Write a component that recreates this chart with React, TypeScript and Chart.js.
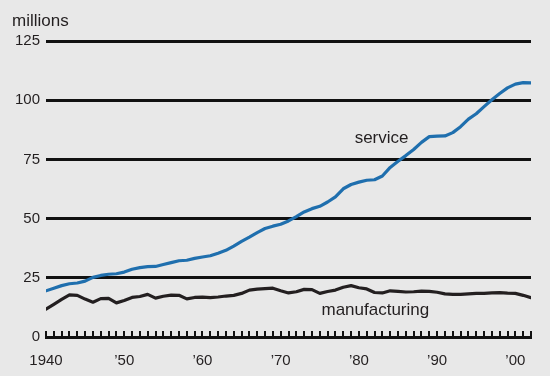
import React, { useEffect, useRef } from "react";
import { Chart, registerables } from "chart.js";

Chart.register(...registerables);

const YEARS: number[] = Array.from({ length: 63 }, (_, i) => 1940 + i);

const SERVICE: number[] = [
  19.5, 20.6, 21.7, 22.5, 22.8, 23.6, 25.2, 26.0, 26.5, 26.7,
  27.4, 28.6, 29.3, 29.7, 29.8, 30.6, 31.4, 32.2, 32.4, 33.2,
  33.8, 34.3, 35.4, 36.6, 38.4, 40.4, 42.2, 44.1, 45.8, 46.8,
  47.6, 49.0, 50.8, 52.8, 54.2, 55.2, 57.0, 59.2, 62.6, 64.4,
  65.4, 66.2, 66.4, 68.0, 71.6, 74.2, 76.6, 79.2, 82.2, 84.6,
  84.8, 84.9, 86.3, 88.8, 92.0, 94.3, 97.3, 100.2, 102.8, 105.2,
  106.8, 107.4, 107.3,
];

const MANUFACTURING: number[] = [
  11.8, 13.8, 15.9, 17.8, 17.6, 16.0, 14.7, 16.2, 16.3, 14.4,
  15.4, 16.7, 17.1, 18.0, 16.4, 17.2, 17.7, 17.6, 16.1, 16.7,
  16.8, 16.6, 16.9, 17.3, 17.6, 18.4, 19.8, 20.2, 20.4, 20.6,
  19.5, 18.6, 19.1, 20.1, 20.0, 18.4, 19.2, 19.8, 21.0, 21.7,
  20.8, 20.3, 18.8, 18.6, 19.5, 19.3, 19.0, 19.1, 19.4, 19.3,
  18.9, 18.2, 18.0, 18.0, 18.2, 18.4, 18.4, 18.6, 18.7, 18.5,
  18.4, 17.6, 16.6,
];

const X_TICK_YEARS: number[] = [1940, 1950, 1960, 1970, 1980, 1990, 2000];
const X_TICK_LABELS: string[] = ["1940", "\u201950", "\u201960", "\u201970", "\u201980", "\u201990", "\u201900"];
const Y_UNIT = "millions";
const SERIES_NAMES: string[] = ["service", "manufacturing"];
const SERIES_LABEL_POS: { x: number; y: number }[] = [
  { x: 1982.9, y: 84 },
  { x: 1982.1, y: 11.2 },
];

const FONT = '"Liberation Sans", Arial, Helvetica, sans-serif';
const BG = "#e8e8e8";
const TEXT = "#231f20";

export default function App() {
  const ref = useRef<HTMLCanvasElement | null>(null);

  useEffect(() => {
    document.body.style.margin = "0";
    const canvas = ref.current;
    if (!canvas) return;

    const decor = {
      id: "decor",
      beforeDraw(chart: any) {
        const ctx = chart.ctx;
        ctx.save();
        ctx.fillStyle = BG;
        ctx.fillRect(0, 0, chart.width, chart.height);
        ctx.restore();
      },
      afterDatasetsDraw(chart: any) {
        const ctx = chart.ctx;
        const xs = chart.scales.x;
        const ys = chart.scales.y;
        const bottom = ys.getPixelForValue(0);
        ctx.save();
        // yearly tick marks pointing up from the axis
        ctx.strokeStyle = "#111";
        ctx.lineWidth = 2;
        for (const yr of YEARS) {
          const px = Math.round(xs.getPixelForValue(yr));
          ctx.beginPath();
          ctx.moveTo(px, bottom);
          ctx.lineTo(px, bottom - 6);
          ctx.stroke();
        }
        // unit label
        ctx.fillStyle = TEXT;
        ctx.font = `17px ${FONT}`;
        ctx.textAlign = "left";
        ctx.textBaseline = "alphabetic";
        ctx.fillText(Y_UNIT, 12, 26);
        // series labels
        ctx.textAlign = "center";
        ctx.textBaseline = "middle";
        SERIES_NAMES.forEach((name, i) => {
          const p = SERIES_LABEL_POS[i];
          ctx.fillText(name, xs.getPixelForValue(p.x), ys.getPixelForValue(p.y));
        });
        ctx.restore();
      },
    };

    const chart = new Chart(canvas, {
      type: "line",
      data: {
        datasets: [
          {
            label: SERIES_NAMES[0],
            data: YEARS.map((y, i) => ({ x: y, y: SERVICE[i] })),
            borderColor: "#1f6fae",
            borderWidth: 3.2,
            pointRadius: 0,
            tension: 0,
            borderJoinStyle: "round",
            borderCapStyle: "round",
          },
          {
            label: SERIES_NAMES[1],
            data: YEARS.map((y, i) => ({ x: y, y: MANUFACTURING[i] })),
            borderColor: "#231f20",
            borderWidth: 3.2,
            pointRadius: 0,
            tension: 0,
            borderJoinStyle: "round",
            borderCapStyle: "round",
          },
        ],
      },
      options: {
        animation: false,
        responsive: false,
        devicePixelRatio: 1,
        layout: { padding: { top: 41, right: 19, bottom: 0, left: 0 } },
        plugins: {
          legend: { display: false },
          tooltip: { enabled: false },
          title: { display: false },
        },
        scales: {
          x: {
            type: "linear",
            min: 1940,
            max: 2002,
            afterBuildTicks(scale: any) {
              scale.ticks = X_TICK_YEARS.map((v) => ({ value: v }));
            },
            afterFit(scale: any) {
              scale.height = 39;
            },
            ticks: {
              autoSkip: false,
              maxRotation: 0,
              padding: 15,
              color: TEXT,
              font: { family: FONT, size: 15 },
              callback: (v: any) => {
                const idx = X_TICK_YEARS.indexOf(Number(v));
                return idx >= 0 ? X_TICK_LABELS[idx] : "";
              },
            },
            grid: { display: false, drawTicks: false },
            border: { display: true, color: "#111", width: 3 },
          },
          y: {
            type: "linear",
            min: 0,
            max: 125,
            afterFit(scale: any) {
              scale.width = 46;
            },
            ticks: {
              stepSize: 25,
              padding: 6,
              color: TEXT,
              font: { family: FONT, size: 15 },
            },
            grid: {
              drawTicks: false,
              color: (c: any) => (c.tick && c.tick.value === 0 ? "rgba(0,0,0,0)" : "#111"),
              lineWidth: 3,
            },
            border: { display: false },
          },
        },
      },
      plugins: [decor],
    });

    return () => chart.destroy();
  }, []);

  return (
    <div style={{ width: 550, height: 376, background: BG }}>
      <canvas ref={ref} width={550} height={376} style={{ width: 550, height: 376, display: "block" }} />
    </div>
  );
}
